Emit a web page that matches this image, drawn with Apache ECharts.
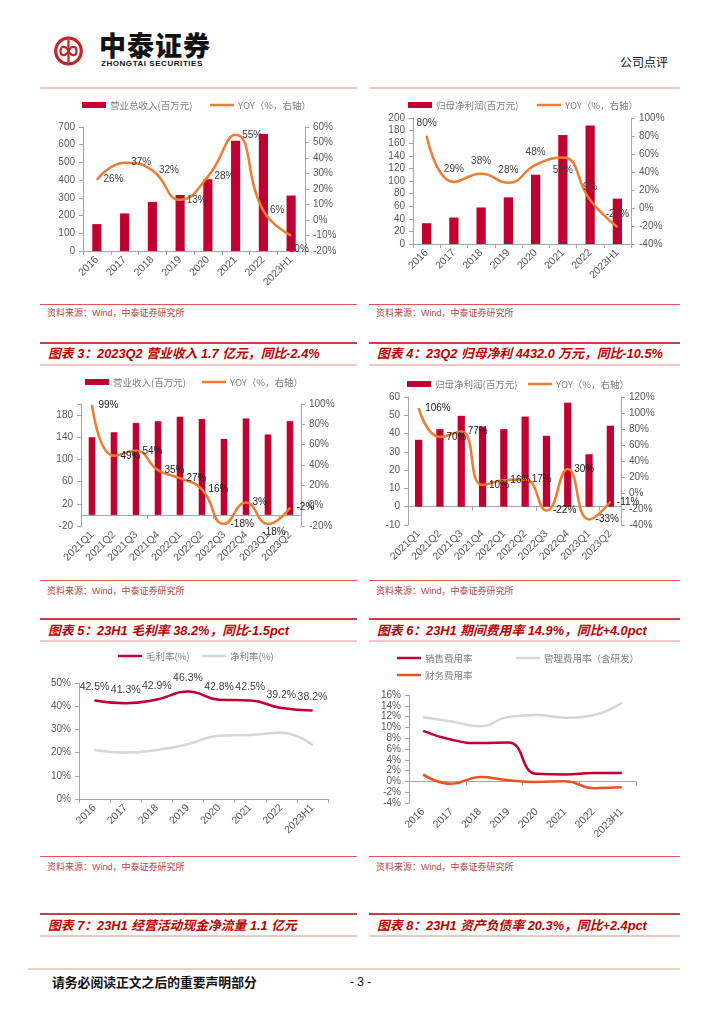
<!DOCTYPE html>
<html><head><meta charset="utf-8">
<script src="https://cdn.jsdelivr.net/npm/echarts/dist/echarts.min.js"></script>
<style>
body{margin:0;width:724px;height:1024px;position:relative;background:#fff;overflow:hidden;font-family:"Liberation Sans","Noto Sans CJK SC",sans-serif}
.abs{position:absolute;white-space:nowrap}
.ln{position:absolute;height:0}
.title{position:absolute;white-space:nowrap;font-style:italic;font-weight:bold;color:#c00000;font-size:12.8px;line-height:16px;font-family:"Liberation Sans","Noto Sans CJK SC",sans-serif}
.src{position:absolute;white-space:nowrap;font-size:9px;line-height:11px;color:#b44646;font-family:"Liberation Sans","Noto Sans CJK SC",sans-serif}
</style></head>
<body>
<svg class="abs" style="left:52px;top:35px" width="34" height="32" viewBox="0 0 34 32">
<circle cx="16.5" cy="16" r="12.8" fill="none" stroke="#c0272d" stroke-width="3.2"/>
<line x1="16.5" y1="5" x2="16.5" y2="27" stroke="#c0272d" stroke-width="2.2"/>
<path d="M16.5 16 C 14 10.5, 8.5 10.5, 8.5 16 C 8.5 21.5, 14 21.5, 16.5 16 C 19 10.5, 24.5 10.5, 24.5 16 C 24.5 21.5, 19 21.5, 16.5 16" fill="none" stroke="#c0272d" stroke-width="2.2"/>
</svg>
<div class="abs" style="left:99px;top:30px;font-size:27px;line-height:30px;font-weight:900;letter-spacing:1px;color:#111;font-family:'Noto Sans CJK SC'">中泰证券</div>
<div class="abs" style="left:101px;top:59px;font-size:8px;line-height:9px;font-weight:bold;letter-spacing:0.55px;color:#111">ZHONGTAI SECURITIES</div>
<div class="abs" style="left:620px;top:54px;font-size:12px;line-height:15px;color:#111;font-family:'Noto Sans CJK SC'">公司点评</div>
<div class="ln" style="left:40px;top:87px;width:317px;border-top:2px solid #f2c6c6"></div>
<div class="ln" style="left:369px;top:87px;width:311px;border-top:2px solid #f2c6c6"></div>

<div class="ln" style="left:40px;top:304px;width:317px;border-top:1px solid #d55"></div>
<div class="ln" style="left:369px;top:304px;width:311px;border-top:1px solid #d55"></div>
<div class="src" style="left:47px;top:308px">资料来源：Wind，中泰证券研究所</div>
<div class="src" style="left:376px;top:308px">资料来源：Wind，中泰证券研究所</div>

<div class="ln" style="left:40px;top:342px;width:317px;border-top:2px solid #c84040"></div>
<div class="ln" style="left:369px;top:342px;width:311px;border-top:2px solid #c84040"></div>
<div class="title" style="left:48px;top:346px">图表 3：2023Q2 营业收入 1.7 亿元，同比-2.4%</div>
<div class="title" style="left:377px;top:346px">图表 4：23Q2 归母净利 4432.0 万元，同比-10.5%</div>
<div class="ln" style="left:40px;top:364px;width:317px;border-top:2px solid #f2c6c6"></div>
<div class="ln" style="left:369px;top:364px;width:311px;border-top:2px solid #f2c6c6"></div>

<div class="ln" style="left:40px;top:580px;width:317px;border-top:1px solid #d55"></div>
<div class="ln" style="left:369px;top:580px;width:311px;border-top:1px solid #d55"></div>
<div class="src" style="left:47px;top:586px">资料来源：Wind，中泰证券研究所</div>
<div class="src" style="left:376px;top:586px">资料来源：Wind，中泰证券研究所</div>

<div class="ln" style="left:40px;top:618px;width:317px;border-top:2px solid #c84040"></div>
<div class="ln" style="left:369px;top:618px;width:311px;border-top:2px solid #c84040"></div>
<div class="title" style="left:48px;top:623px">图表 5：23H1 毛利率 38.2%，同比-1.5pct</div>
<div class="title" style="left:377px;top:623px">图表 6：23H1 期间费用率 14.9%，同比+4.0pct</div>
<div class="ln" style="left:40px;top:640px;width:317px;border-top:2px solid #f2c6c6"></div>
<div class="ln" style="left:369px;top:640px;width:311px;border-top:2px solid #f2c6c6"></div>

<div class="ln" style="left:40px;top:856px;width:317px;border-top:1px solid #d55"></div>
<div class="ln" style="left:369px;top:856px;width:311px;border-top:1px solid #d55"></div>
<div class="src" style="left:47px;top:862px">资料来源：Wind，中泰证券研究所</div>
<div class="src" style="left:376px;top:862px">资料来源：Wind，中泰证券研究所</div>

<div class="ln" style="left:40px;top:913px;width:317px;border-top:2px solid #c84040"></div>
<div class="ln" style="left:369px;top:913px;width:311px;border-top:2px solid #c84040"></div>
<div class="title" style="left:48px;top:918px">图表 7：23H1 经营活动现金净流量 1.1 亿元</div>
<div class="title" style="left:377px;top:918px">图表 8：23H1 资产负债率 20.3%，同比+2.4pct</div>
<div class="ln" style="left:40px;top:935px;width:317px;border-top:2px solid #f2c6c6"></div>
<div class="ln" style="left:369px;top:935px;width:311px;border-top:2px solid #f2c6c6"></div>

<div class="ln" style="left:28px;top:968px;width:652px;border-top:2px solid #ead2bd"></div>
<div class="abs" style="left:52px;top:974px;font-size:12.8px;line-height:16px;color:#111;font-weight:bold;font-family:'Noto Sans CJK SC'">请务必阅读正文之后的重要声明部分</div>
<div class="abs" style="left:350px;top:975px;font-size:12px;line-height:15px;color:#111">- 3 -</div>

<script>
// ---------- data ----------
const yearCats = ['2016','2017','2018','2019','2020','2021','2022','2023H1'];
const quarterCats = ['2021Q1','2021Q2','2021Q3','2021Q4','2022Q1','2022Q2','2022Q3','2022Q4','2023Q1','2023Q2'];
const revenueAnnual = [152,212,277,316,405,622,660,313];
const revenueAnnualYoy = [26,37,32,13,28,55,6,-10];
const profitAnnual = [33,42,58,74,110,173,188,72];
const profitAnnualYoy = [80,29,38,28,48,56,9,-21];
const revenueQuarter = [140,149,166,169,177,173,137,174,145,169];
const revenueQuarterYoy = [99,49,54,35,27,16,-18,3,-18,-2];
const profitQuarter = [36.6,42.4,49.7,43.9,42.4,49.3,38.8,56.9,28.7,44.3];
const profitQuarterYoy = [106,70,77,10,16,17,-22,30,-33,-11];
const grossMargin = [42.5,41.3,42.9,46.3,42.8,42.5,39.2,38.2];
const netMargin = [21.1,20.0,21.1,23.6,27.3,27.6,28.6,23.3];
const salesRate = [9.35,7.7,7.1,7.2,1.4,1.3,1.55,1.55];
const mgmtRate = [11.9,11.1,10.2,11.95,12.3,11.8,12.3,14.55];
const finRate = [1.25,-0.45,0.8,0.2,-0.1,0.05,-1.25,-1.1];
const revQuarterLeftTicks = [-20,20,60,100,140,180];

// ---------- styles ----------
const RED = '#c00030', ORANGE = '#ee7d31', GRAY = '#d6d6d6', FIN = '#e8541c';
const AX = '#a6a6a6', TXT = '#595959', FONT = 'Liberation Sans';

function makeChart(bx, opt) {
  const el = document.createElement('div');
  el.style.cssText = `position:absolute;left:${bx[0]}px;top:${bx[1]}px;width:${bx[2]}px;height:${bx[3]}px`;
  document.body.appendChild(el);
  const c = echarts.init(el, null, {renderer: 'canvas'});
  opt.animation = false;
  c.setOption(opt);
}
function g(bx, x1, y1, x2, y2) {
  return {left: x1 - bx[0], top: y1 - bx[1], width: x2 - x1, height: y2 - y1, containLabel: false, outerBoundsMode: 'none'};
}
function lg(bx, name, x, yc, kind) {
  return {data: [{name, icon: 'rect'}], left: x - bx[0], top: yc - 6 - bx[1], padding: 0,
    itemWidth: 24, itemHeight: kind === 'bar' ? 6 : 2.5, itemGap: 0, selectedMode: false,
    textStyle: {color: '#7f7f7f', fontSize: 9.5, lineHeight: 12, fontFamily: 'Noto Sans CJK SC', padding: [0, 0, 0, -1]}};
}
function catAxis(data, extra) {
  return Object.assign({type: 'category', data, position: 'bottom', boundaryGap: true,
    axisLine: {show: true, onZero: false, lineStyle: {color: AX}},
    axisTick: {show: true, length: 4, lineStyle: {color: AX}},
    axisLabel: {rotate: 45, color: TXT, fontSize: 10.5, margin: 7, interval: 0, fontFamily: FONT},
    splitLine: {show: false}}, extra || {});
}
function valAxis(min, max, interval, fmt, pos) {
  return {type: 'value', min, max, interval, position: pos,
    axisLine: {show: true, lineStyle: {color: AX}},
    axisTick: {show: true, length: 4, lineStyle: {color: AX}},
    axisLabel: {color: TXT, fontSize: 10, formatter: fmt, margin: 8, fontFamily: FONT},
    splitLine: {show: false}};
}
function barSeries(name, vals, width) {
  return {type: 'bar', name, data: vals, barWidth: width, itemStyle: {color: RED}, silent: true};
}
function lineSeries(name, vals, yIdx, color, opts) {
  opts = opts || {};
  const ov = opts.over || {};
  const s = {type: 'line', name, yAxisIndex: yIdx, smooth: 0.5, symbol: 'circle', symbolSize: 1,
    data: vals.map((v, i) => ov[i] ? {value: v, label: ov[i]} : v),
    lineStyle: {width: 2.5, color}, itemStyle: {color}, silent: true, z: 3};
  if (opts.pos) {
    s.label = {show: true, position: opts.pos, distance: opts.dist == null ? 5 : opts.dist, formatter: '{c}%',
      color: opts.lc || '#404040', fontSize: opts.fs || 10, fontFamily: FONT};
  }
  return s;
}

// ---------- chart 1 ----------
const B1 = [40, 92, 320, 212];
makeChart(B1, {
  grid: g(B1, 83, 127, 305, 251),
  legend: [lg(B1, '营业总收入(百万元)', 82, 105, 'bar'), lg(B1, 'YOY（%，右轴）', 210, 105, 'line')],
  xAxis: catAxis(yearCats),
  yAxis: [valAxis(0, 700, 100, '{value}', 'left'), valAxis(-20, 60, 10, '{value}%', 'right')],
  series: [barSeries('营业总收入(百万元)', revenueAnnual, '33%'),
    lineSeries('YOY（%，右轴）', revenueAnnualYoy, 1, ORANGE, {pos: 'right', dist: 6, over: {7: {position: 'bottom', offset: [6, 2]}}})]
});

// ---------- chart 2 ----------
const B2 = [369, 92, 320, 212];
makeChart(B2, {
  grid: g(B2, 413, 118, 631, 244),
  legend: [lg(B2, '归母净利润(百万元)', 408, 105, 'bar'), lg(B2, 'YOY（%，右轴）', 537, 105, 'line')],
  xAxis: catAxis(yearCats),
  yAxis: [valAxis(0, 200, 20, '{value}', 'left'), valAxis(-40, 100, 20, '{value}%', 'right')],
  series: [barSeries('归母净利润(百万元)', profitAnnual, '34%'),
    lineSeries('YOY（%，右轴）', profitAnnualYoy, 1, ORANGE, {pos: 'top', dist: 7, over: {5: {position: 'bottom'}}})]
});

// ---------- chart 3 ----------
const B3 = [40, 368, 320, 212];
const y3 = valAxis(-20, 200, 40, v => revQuarterLeftTicks.indexOf(v) >= 0 ? String(v) : '', 'left');
makeChart(B3, {
  grid: g(B3, 81, 404, 301, 526),
  legend: [lg(B3, '营业收入(百万元)', 85, 382, 'bar'), lg(B3, 'YOY（%，右轴）', 202, 382, 'line')],
  xAxis: [catAxis(quarterCats, {axisLine: {show: false, onZero: false}, axisTick: {show: false}}),
    catAxis(quarterCats, {axisLabel: {show: false}, axisLine: {show: true, onZero: true, onZeroAxisIndex: 0, lineStyle: {color: AX}}})],
  yAxis: [y3, valAxis(-20, 100, 20, '{value}%', 'right')],
  series: [barSeries('营业收入(百万元)', revenueQuarter, '30%'),
    lineSeries('YOY（%，右轴）', revenueQuarterYoy, 1, ORANGE, {pos: 'right', dist: 6, lc: '#1a1a1a', over: {8: {position: 'bottom', offset: [6, -3]}}})]
});

// ---------- chart 4 ----------
const B4 = [369, 368, 320, 212];
makeChart(B4, {
  grid: g(B4, 408, 397, 621, 525),
  legend: [lg(B4, '归母净利润(百万元)', 407, 384, 'bar'), lg(B4, 'YOY（%，右轴）', 528, 384, 'line')],
  xAxis: [catAxis(quarterCats, {axisLine: {show: false, onZero: false}, axisTick: {show: false}}),
    catAxis(quarterCats, {axisLabel: {show: false}, axisLine: {show: true, onZero: true, onZeroAxisIndex: 0, lineStyle: {color: AX}}})],
  yAxis: [valAxis(-10, 60, 10, '{value}', 'left'), valAxis(-40, 120, 20, '{value}%', 'right')],
  series: [barSeries('归母净利润(百万元)', profitQuarter, '34%'),
    lineSeries('YOY（%，右轴）', profitQuarterYoy, 1, ORANGE, {pos: 'right', dist: 6, lc: '#1a1a1a'})]
});

// ---------- chart 5 ----------
const B5 = [40, 644, 320, 212];
makeChart(B5, {
  grid: g(B5, 79, 683, 328, 799),
  legend: [lg(B5, '毛利率(%)', 118, 656, 'line'), lg(B5, '净利率(%)', 202, 656, 'line')],
  xAxis: catAxis(yearCats),
  yAxis: valAxis(0, 50, 10, '{value}%', 'left'),
  series: [lineSeries('净利率(%)', netMargin, 0, GRAY),
    lineSeries('毛利率(%)', grossMargin, 0, RED, {pos: 'top', dist: 7, lc: '#404040', fs: 10.5})]
});

// ---------- chart 6 ----------
const B6 = [369, 644, 320, 212];
makeChart(B6, {
  grid: g(B6, 409, 695, 636, 803),
  legend: [lg(B6, '销售费用率', 397, 658, 'line'), lg(B6, '管理费用率（含研发）', 516, 658, 'line'), lg(B6, '财务费用率', 397, 675, 'line')],
  xAxis: [catAxis(yearCats, {axisLine: {show: false, onZero: false}, axisTick: {show: false}}),
    catAxis(yearCats, {axisLabel: {show: false}, axisLine: {show: true, onZero: true, onZeroAxisIndex: 0, lineStyle: {color: AX}}})],
  yAxis: valAxis(-4, 16, 2, '{value}%', 'left'),
  series: [lineSeries('管理费用率（含研发）', mgmtRate, 0, GRAY),
    lineSeries('销售费用率', salesRate, 0, RED),
    lineSeries('财务费用率', finRate, 0, FIN)]
});
</script>
</body></html>
